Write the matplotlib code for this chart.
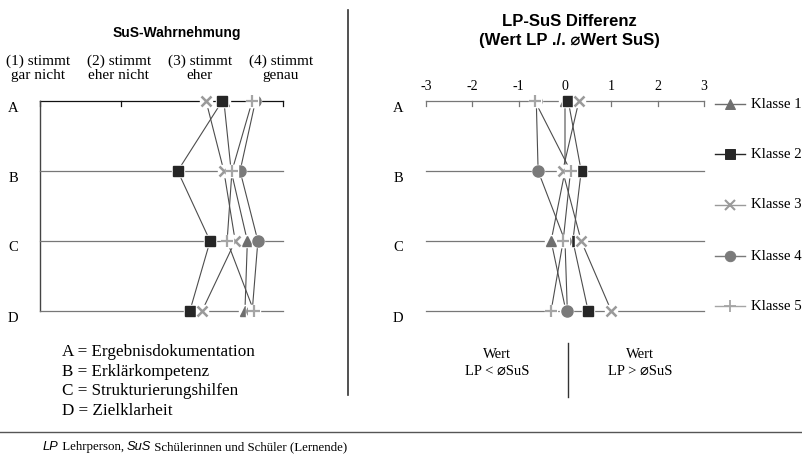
import matplotlib
matplotlib.use("Agg")
import matplotlib.pyplot as plt
from matplotlib.lines import Line2D

# rows and classes
rows = ["A", "B", "C", "D"]
row_names = ["Ergebnisdokumentation", "Erklärkompetenz", "Strukturierungshilfen", "Zielklarheit"]
klassen = ["Klasse 1", "Klasse 2", "Klasse 3", "Klasse 4", "Klasse 5"]
scale_labels = ["(1) stimmt\ngar nicht", "(2) stimmt\neher nicht", "(3) stimmt\neher", "(4) stimmt\ngenau"]
diff_ticks = [-3, -2, -1, 0, 1, 2, 3]

# SuS-Wahrnehmung (1..4) per class, rows A-D
sus_k1 = [3.27, 3.36, 3.56, 3.53]
sus_k2 = [3.25, 2.70, 3.10, 2.85]
sus_k3 = [3.05, 3.27, 3.41, 3.00]
sus_k4 = [3.66, 3.47, 3.69, 3.62]
sus_k5 = [3.62, 3.37, 3.31, 3.64]

# LP-SuS Differenz per class, rows A-D
diff_k1 = [0.00, 0.00, -0.30, 0.02]
diff_k2 = [0.07, 0.35, 0.17, 0.50]
diff_k3 = [0.30, -0.05, 0.35, 1.00]
diff_k4 = [-0.62, -0.58, 0.00, 0.05]
diff_k5 = [-0.65, 0.12, -0.04, -0.30]

sus = [sus_k1, sus_k2, sus_k3, sus_k4, sus_k5]
diff = [diff_k1, diff_k2, diff_k3, diff_k4, diff_k5]

styles = [
    dict(marker="^", color="#6e6e6e", ms=7.5, mew=1.0),
    dict(marker="s", color="#262626", ms=7.5, mew=1.0),
    dict(marker="x", color="#9a9a9a", ms=7, mew=1.8),
    dict(marker="o", color="#7a7a7a", ms=8, mew=1.0),
    dict(marker="+", color="#a5a5a5", ms=9, mew=1.6),
]

SERIF = ["Liberation Serif", "DejaVu Serif", "DejaVu Sans"]
SANS = ["Liberation Sans", "DejaVu Sans"]
FS = 11

W, H = 803, 455
fig = plt.figure(figsize=(W / 100, H / 100), dpi=100)

def fx(px):
    return px / W

def fy(py):
    return 1 - py / H

ypos = list(range(len(rows)))
ax1 = fig.add_axes([fx(40), fy(332), 243 / W, 252 / H])
ax1.set_xlim(1, 4)
ax1.set_ylim(3.3, -0.3)
ax1.axis("off")
ax2 = fig.add_axes([fx(426), fy(332), 278 / W, 252 / H])
ax2.set_xlim(-3, 3)
ax2.set_ylim(3.3, -0.3)
ax2.axis("off")

# left frame
ax1.plot([1, 4], [0, 0], color="#111111", lw=0.9, zorder=1, clip_on=False)
for t in [1, 2, 3, 4]:
    ax1.plot([t, t], [0, 0.07], color="#111111", lw=0.9, zorder=1, clip_on=False)
ax1.plot([1, 1], [0, 3], color="#444444", lw=1.0, zorder=1, clip_on=False)
for r in ypos[1:]:
    ax1.plot([1, 4], [r, r], color="#777777", lw=0.9, zorder=1, clip_on=False)

# right frame
ax2.plot([-3, 3], [0, 0], color="#777777", lw=0.9, zorder=1, clip_on=False)
for t in diff_ticks:
    ax2.plot([t, t], [0, 0.07], color="#777777", lw=0.9, zorder=1, clip_on=False)
    ax2.text(t, -0.2, str(t), ha="center", va="center", fontsize=FS - 1, family=SERIF)
for r in ypos[1:]:
    ax2.plot([-3, 3], [r, r], color="#777777", lw=0.9, zorder=1, clip_on=False)

for ax, data in [(ax1, sus), (ax2, diff)]:
    for vals in data:
        ax.plot(vals, ypos, color="#4d4d4d", lw=0.8, zorder=3, clip_on=False)
    for i, (vals, st) in enumerate(zip(data, styles)):
        ax.plot(vals, ypos, ls="none", marker="s", ms=8.8, color="white", zorder=10 + 2 * i,
                clip_on=False)
        ax.plot(vals, ypos, ls="none", marker=st["marker"], ms=st["ms"], mew=st["mew"],
                color=st["color"], zorder=11 + 2 * i, clip_on=False)

# scale labels
for i, lab in enumerate(scale_labels):
    ax1.text(i + 1 - 0.03, -0.47, lab, ha="center", va="center", fontsize=FS,
             family=SERIF, linespacing=1.1)

# row letters
row_px = [101, 171, 241, 311]
for lab, py in zip(rows, row_px):
    fig.text(fx(13), fy(py + 7), lab, ha="center", va="center", fontsize=FS - 0.5, family=SERIF)
    fig.text(fx(398), fy(py + 7), lab, ha="center", va="center", fontsize=FS - 0.5, family=SERIF)

# titles
fig.text(fx(177), fy(33), "SuS-Wahrnehmung", ha="center", va="center", fontsize=10,
         fontweight="bold", family=SANS)
fig.text(fx(569), fy(21), "LP-SuS Differenz", ha="center", va="center", fontsize=12,
         fontweight="bold", family=SANS)
fig.text(fx(569), fy(41), "(Wert LP ./. \u2300Wert SuS)", ha="center", va="center", fontsize=12,
         fontweight="bold", family=SANS)

# legend
leg_y = [104, 154, 205, 256, 306]
for st, lab, py in zip(styles, klassen, leg_y):
    fig.add_artist(Line2D([fx(715), fx(730), fx(745)], [fy(py)] * 3, color=st["color"], lw=1.0,
                          marker=st["marker"], markevery=[1], ms=st["ms"] - 0.5, mew=st["mew"] - 0.3))
    fig.text(fx(751), fy(py), lab, ha="left", va="center", fontsize=FS - 0.3, family=SERIF)

# row legend
for i, (lab, name) in enumerate(zip(rows, row_names)):
    fig.text(fx(62), fy(352 + i * 19.7), f"{lab} = {name}", ha="left", va="center", fontsize=12.3,
             family=SERIF)

# bottom right explanation
fig.text(fx(497), fy(363), "Wert\nLP < \u2300SuS", ha="center", va="center", fontsize=FS - 0.5,
         family=SERIF, linespacing=1.3)
fig.text(fx(640), fy(363), "Wert\nLP > \u2300SuS", ha="center", va="center", fontsize=FS - 0.5,
         family=SERIF, linespacing=1.3)
fig.add_artist(Line2D([fx(568), fx(568)], [fy(343), fy(397)], color="#333333", lw=1.0))

# divider and footer rule
fig.add_artist(Line2D([fx(348), fx(348)], [fy(10), fy(395)], color="#333333", lw=1.2))
fig.add_artist(Line2D([fx(0), fx(801)], [fy(432), fy(432)], color="#555555", lw=1.0))

# footnote, pieces chained one after another
t = fig.text(fx(43), fy(453), "LP", ha="left", va="bottom", fontsize=9.3, style="italic",
             family=SANS)
parts = [(" Lehrperson, ", SERIF, "normal"), ("SuS", SANS, "italic"),
         (" Schülerinnen und Schüler (Lernende)", SERIF, "normal")]
for txt, fam, sty in parts:
    t = ax2.annotate(txt, xy=(1, 0), xycoords=t, ha="left", va="bottom", fontsize=9.3,
                     family=fam, style=sty, annotation_clip=False)

fig.savefig("out.png", dpi=100)
